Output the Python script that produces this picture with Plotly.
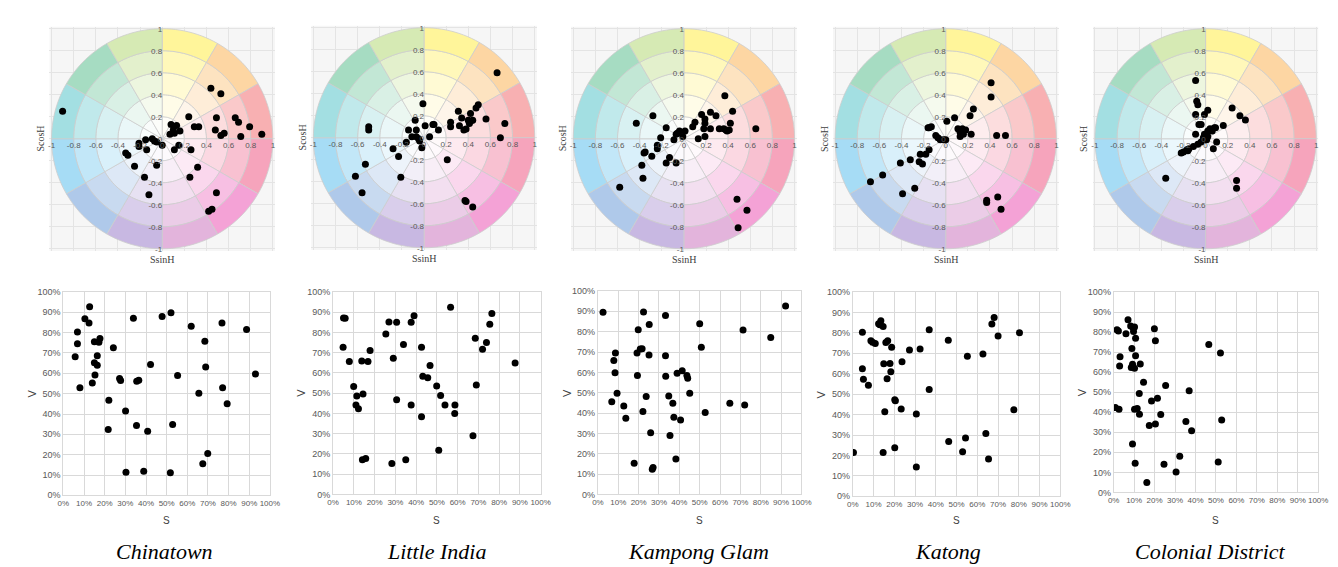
import numpy as np
import plotly.graph_objects as go

W, H = 1338, 567

regions = ["Chinatown", "Little India", "Kampong Glam", "Katong", "Colonial District"]

# ---- hue-wheel data: x = S*sinH, y = S*cosH ----
ct_ssinh = [-0.90, 0.44, 0.53, 0.24, 0.49, 0.66, 0.69, 0.79, 0.90, 0.71, 0.48, 0.56, 0.53, 0.29, 0.33,
            0.08, 0.13, 0.10, 0.16, 0.07, 0.11, 0.11, 0.15, 0.26, 0.32, 0.25, 0.49, 0.45, 0.42, 0.00,
            -0.05, -0.07, -0.15, -0.14, -0.21, -0.21, -0.05, -0.31, -0.33, -0.25, -0.16, -0.12, -0.09]
ct_scosh = [0.25, 0.46, 0.41, 0.20, 0.19, 0.19, 0.15, 0.11, 0.04, 0.02, 0.08, 0.05, 0.03, 0.11, 0.11,
            0.13, 0.12, 0.08, 0.07, 0.04, 0.05, -0.10, -0.06, -0.10, -0.26, -0.35, -0.49, -0.64, -0.66, -0.06,
            -0.03, -0.02, -0.01, -0.10, -0.04, -0.07, -0.24, -0.15, -0.13, -0.25, -0.35, -0.51, 0.00]

li_ssinh = [0.66, 0.49, 0.47, 0.56, 0.73, 0.69, 0.31, 0.34, 0.42, 0.40, 0.42, 0.44, 0.41, 0.32, 0.36,
            0.38, 0.24, 0.24, 0.08, 0.09, 0.01, 0.13, 0.05, -0.01, -0.08, -0.07, -0.14, -0.16, -0.11, -0.07,
            -0.05, -0.04, -0.02, -0.28, -0.23, -0.21, -0.50, -0.50, -0.53, -0.62, -0.56, 0.21, 0.37, 0.38, 0.44]
li_scosh = [0.59, 0.30, 0.27, 0.17, 0.13, 0.00, 0.24, 0.18, 0.22, 0.16, 0.15, 0.16, 0.13, 0.11, 0.07,
            0.08, 0.14, 0.10, 0.12, 0.12, 0.11, 0.07, 0.01, 0.31, 0.16, 0.07, 0.07, -0.04, 0.01, 0.01,
            -0.01, -0.03, -0.09, -0.10, -0.17, -0.36, 0.10, 0.07, -0.24, -0.35, -0.50, -0.20, -0.57, -0.58, -0.63]

kg_ssinh = [0.37, 0.44, 0.65, 0.24, 0.29, 0.16, 0.19, 0.19, 0.10, 0.08, 0.18, 0.24, 0.32, 0.36, 0.38,
            0.41, 0.42, 0.39, 0.19, 0.13, 0.01, -0.04, -0.06, -0.07, -0.01, -0.09, -0.16, -0.21, -0.28, -0.43,
            -0.24, -0.24, -0.29, -0.35, -0.36, -0.38, -0.37, -0.58, -0.13, -0.16, -0.07, 0.48, 0.57, 0.49]
kg_scosh = [0.39, 0.25, 0.09, 0.24, 0.21, 0.22, 0.18, 0.14, 0.15, 0.11, 0.09, 0.09, 0.09, 0.09, 0.08,
            0.08, 0.14, 0.07, 0.02, 0.00, 0.07, 0.07, 0.05, 0.04, 0.02, -0.01, 0.10, 0.01, 0.21, 0.14,
            -0.06, -0.09, -0.16, -0.12, -0.13, -0.24, -0.36, -0.44, -0.17, -0.22, -0.22, -0.55, -0.65, -0.81]

kt_ssinh = [0.41, 0.41, 0.25, 0.22, 0.08, 0.01, 0.11, 0.15, 0.18, 0.13, 0.16, 0.23, 0.13, 0.46, 0.54,
            -0.15, -0.13, -0.09, -0.07, -0.05, -0.02, 0.00, -0.15, -0.18, -0.23, -0.24, -0.21, -0.32, -0.41, -0.57,
            -0.68, -0.28, -0.39, 0.37, 0.37, 0.47, 0.50, -0.16]
kt_scosh = [0.51, 0.38, 0.27, 0.21, 0.19, 0.16, 0.09, 0.09, 0.08, 0.06, 0.04, 0.04, 0.02, 0.03, 0.03,
            0.10, 0.11, 0.03, 0.01, -0.01, -0.01, -0.01, -0.10, -0.14, -0.14, -0.21, -0.23, -0.19, -0.22, -0.33,
            -0.39, -0.45, -0.50, -0.56, -0.58, -0.53, -0.64, 0.10]

cd_ssinh = [-0.09, -0.08, -0.07, -0.09, 0.02, -0.01, 0.24, 0.31, 0.36, 0.16, 0.09, 0.04, -0.04, -0.06, 0.02,
            0.06, 0.08, -0.01, -0.09, -0.02, 0.01, -0.04, 0.10, 0.07, -0.07, -0.11, -0.15, -0.17, -0.20, -0.22,
            -0.16, -0.36, 0.28, 0.28, 0.00, 0.02]
cd_scosh = [0.53, 0.34, 0.31, 0.22, 0.26, 0.22, 0.28, 0.21, 0.17, 0.12, 0.10, 0.09, 0.13, 0.13, 0.07,
            0.07, 0.10, 0.04, 0.04, 0.01, -0.01, -0.03, -0.03, -0.09, -0.05, -0.07, -0.09, -0.10, -0.12, -0.13,
            -0.11, -0.36, -0.38, -0.45, 0.04, 0.02]

# ---- S-V scatter data (percent) ----
ct_s = [12.7, 10.4, 12.4, 6.8, 6.8, 5.7, 8.0, 15.0, 17.7, 17.2, 16.4, 15.0, 16.4, 15.3, 14.0, 24.2, 22.0,
        21.7, 27.2, 27.7, 35.5, 36.5, 33.9, 30.1, 35.4, 30.3, 38.9, 40.8, 42.2, 47.8, 52.1, 55.3, 52.9, 51.8,
        61.9, 68.5, 68.9, 65.6, 69.9, 67.5, 76.8, 77.1, 79.3, 88.7, 93.0]
ct_v = [92.7, 86.8, 84.8, 80.3, 74.5, 68.2, 52.9, 75.5, 77.1, 75.3, 68.7, 65.2, 64.0, 59.2, 55.3, 72.6, 46.8,
        32.4, 57.4, 56.5, 56.1, 56.6, 87.1, 41.5, 34.4, 11.3, 11.9, 31.5, 64.4, 87.9, 89.8, 58.9, 34.8, 11.1,
        83.1, 75.8, 63.1, 50.2, 20.6, 15.5, 84.8, 52.9, 45.0, 81.6, 59.7]

li_s = [5.0, 5.8, 4.8, 7.8, 9.9, 11.4, 11.0, 12.2, 13.8, 16.8, 17.8, 14.4, 14.1, 15.7, 25.4, 26.9, 29.0,
        30.6, 30.6, 28.3, 33.9, 35.0, 37.6, 39.0, 37.6, 42.6, 43.2, 45.6, 46.7, 42.6, 49.9, 51.8, 53.9, 50.9,
        56.6, 58.7, 58.6, 68.5, 69.0, 67.4, 72.0, 73.9, 75.5, 76.5, 87.7]
li_v = [87.2, 87.0, 72.7, 65.7, 53.3, 48.6, 44.1, 42.3, 65.9, 65.7, 71.1, 49.6, 17.1, 17.7, 79.3, 85.2, 67.2,
        85.0, 46.8, 15.3, 74.0, 17.1, 85.0, 88.3, 44.2, 72.7, 58.4, 57.6, 63.7, 38.4, 53.5, 48.9, 44.2, 21.8,
        92.4, 44.1, 40.0, 77.1, 54.1, 28.9, 71.7, 75.1, 84.1, 89.4, 64.9]

kg_s = [2.5, 8.6, 7.8, 8.4, 9.4, 6.8, 12.7, 13.7, 17.8, 19.8, 22.4, 19.2, 20.8, 21.7, 19.4, 25.2, 25.1,
        23.7, 22.1, 25.9, 26.7, 27.1, 33.2, 33.2, 33.3, 34.8, 35.4, 36.8, 37.3, 38.9, 41.4, 43.7, 44.1, 40.6,
        38.3, 45.1, 50.0, 50.8, 52.7, 64.8, 72.1, 71.3, 84.9, 92.2]
kg_v = [89.5, 69.5, 65.8, 59.8, 49.7, 45.5, 43.4, 37.4, 15.3, 81.0, 89.7, 69.5, 71.5, 71.6, 58.4, 83.5, 68.5,
        48.1, 40.8, 30.3, 12.3, 13.2, 87.9, 68.2, 58.1, 48.4, 28.9, 44.8, 37.9, 59.5, 60.8, 58.4, 57.1, 36.6,
        17.4, 49.7, 83.9, 72.4, 40.2, 44.8, 44.0, 80.8, 77.1, 92.6]

kt_s = [0.3, 4.6, 4.6, 5.1, 7.5, 8.7, 9.5, 10.8, 12.4, 13.5, 14.6, 13.0, 15.9, 16.8, 18.7, 14.9, 17.9,
        18.3, 16.5, 23.7, 20.2, 20.5, 15.4, 23.3, 14.6, 20.2, 27.3, 32.4, 30.6, 30.6, 36.8, 36.8, 46.0, 55.2,
        46.2, 54.3, 52.9, 62.7, 64.1, 65.4, 67.0, 68.1, 70.0, 80.3, 77.6]
kt_v = [21.5, 80.3, 62.4, 57.3, 54.3, 76.1, 75.4, 74.8, 84.4, 85.9, 83.1, 84.0, 75.3, 76.1, 73.0, 64.9, 65.0,
        61.0, 57.5, 65.8, 47.3, 46.8, 41.4, 42.7, 21.5, 23.8, 71.6, 72.1, 40.3, 14.4, 81.5, 52.3, 76.4, 68.5,
        26.8, 28.6, 21.8, 69.7, 30.8, 18.3, 84.3, 87.5, 78.5, 80.1, 42.4]

cd_s = [0.8, 2.6, 1.6, 2.3, 3.1, 2.9, 6.0, 7.0, 8.3, 9.4, 10.2, 9.7, 10.7, 8.9, 10.7, 9.2, 8.6, 10.2, 13.0,
        14.6, 12.5, 10.2, 11.5, 12.6, 9.2, 10.5, 19.9, 20.4, 18.5, 21.4, 17.4, 20.4, 23.0, 25.4, 16.2, 24.6,
        30.5, 32.3, 35.3, 36.9, 38.1, 46.5, 52.2, 52.8, 51.1]
cd_v = [42.3, 41.5, 81.1, 80.5, 67.7, 63.1, 79.2, 86.2, 83.0, 82.3, 82.5, 80.3, 76.9, 71.8, 68.2, 63.9, 62.3,
        62.0, 64.1, 54.9, 49.3, 41.5, 41.8, 39.0, 24.1, 14.6, 81.6, 75.7, 45.6, 47.0, 33.4, 34.1, 38.9, 53.4,
        4.9, 14.1, 10.2, 18.0, 35.4, 50.7, 30.7, 73.8, 69.5, 36.1, 15.2]

wheel_x = [ct_ssinh, li_ssinh, kg_ssinh, kt_ssinh, cd_ssinh]
wheel_y = [ct_scosh, li_scosh, kg_scosh, kt_scosh, cd_scosh]
sv_s = [ct_s, li_s, kg_s, kt_s, cd_s]
sv_v = [ct_v, li_v, kg_v, kt_v, cd_v]

wheel_ticks = [-1, -0.8, -0.6, -0.4, -0.2, 0, 0.2, 0.4, 0.6, 0.8, 1]
wheel_ticktext = ["-1", "-0.8", "-0.6", "-0.4", "-0.2", "0", "0.2", "0.4", "0.6", "0.8", "1"]
pct_ticks = [i / 10 for i in range(11)]
pct_ticktext = [f"{i * 10}%" for i in range(11)]

# 12 hue sectors, clockwise from north
sector_colors = ["#fff59a", "#fdd6a3", "#f8b0b2", "#f6a4bc", "#f4a2d6", "#e3b4dc",
                 "#c8b8e2", "#afc9ea", "#a6dcf5", "#a3dfe2", "#a6dcc2", "#d6eab4"]
ring_edges = [0, 0.2, 0.4, 0.6, 0.8, 1.0]
ring_strength = [0.06, 0.22, 0.42, 0.68, 1.0]

# ---- layout geometry (pixels) ----
wheel_cx = [150, 415, 678, 943, 1206]
wheel_cy = [128, 127, 128, 128, 128]
wheel_R = 112
LIM = 1.02
sv_boxes = [(50, 259, 284, 491), (323, 533, 284, 490), (591, 797, 283, 490),
            (849, 1059, 284, 492), (1113, 1320, 284, 488)]
name_x = [152, 428, 693, 945, 1211]


def hex_rgb(h):
    h = h.lstrip("#")
    return [int(h[i:i + 2], 16) for i in (0, 2, 4)]


def blend(c, f):
    r, g, b = hex_rgb(c)
    return "rgb(%d,%d,%d)" % (255 + (r - 255) * f, 255 + (g - 255) * f, 255 + (b - 255) * f)


def sector_path(r0, r1, t0, t1, n=14):
    ts = np.linspace(t0, t1, n)
    pts = [(r1 * np.sin(t), r1 * np.cos(t)) for t in ts]
    if r0 > 0:
        pts += [(r0 * np.sin(t), r0 * np.cos(t)) for t in ts[::-1]]
    else:
        pts += [(0.0, 0.0)]
    return "M " + " L ".join(f"{x:.4f},{y:.4f}" for x, y in pts) + " Z"


fig = go.Figure()
layout = dict(
    width=W, height=H, margin=dict(l=0, r=0, t=0, b=0),
    paper_bgcolor="white", plot_bgcolor="white", showlegend=False,
    font=dict(family="Liberation Sans, Arial, sans-serif", color="#595959"),
)
shapes = []
annotations = []

for i in range(5):
    a = 2 * i + 1
    b = 2 * i + 2
    xa, ya = f"x{a}" if a > 1 else "x", f"y{a}" if a > 1 else "y"
    xb, yb = f"x{b}", f"y{b}"
    xak = "xaxis" if a == 1 else f"xaxis{a}"
    yak = "yaxis" if a == 1 else f"yaxis{a}"

    cx, cy = wheel_cx[i], wheel_cy[i]
    half = LIM * wheel_R
    layout[xak] = dict(
        domain=[(cx - half) / W, (cx + half) / W], range=[-LIM, LIM],
        anchor="free", position=1 - cy / H,
        tickvals=wheel_ticks, ticktext=wheel_ticktext, tickfont=dict(size=8, color="#595959"),
        showgrid=True, gridcolor="#e4e4e4", gridwidth=1, zeroline=False, showline=False,
        ticks="", fixedrange=True,
    )
    layout[yak] = dict(
        domain=[1 - (cy + half) / H, 1 - (cy - half) / H], range=[-LIM, LIM],
        anchor="free", position=cx / W,
        tickvals=wheel_ticks, ticktext=wheel_ticktext, tickfont=dict(size=8, color="#595959"),
        showgrid=True, gridcolor="#e4e4e4", gridwidth=1, zeroline=False, showline=False,
        ticks="", fixedrange=True,
    )
    # grey square backdrop
    shapes.append(dict(type="rect", xref=xa, yref=ya, x0=-LIM, x1=LIM, y0=-LIM, y1=LIM,
                       fillcolor="#f6f6f6", line=dict(width=0), layer="below"))
    # hue wheel
    for k, col in enumerate(sector_colors):
        t0, t1 = np.radians(30 * k), np.radians(30 * (k + 1))
        for j in range(5):
            shapes.append(dict(type="path", xref=xa, yref=ya,
                               path=sector_path(ring_edges[j], ring_edges[j + 1], t0, t1),
                               fillcolor=blend(col, ring_strength[j]),
                               line=dict(color="#cdcdcd", width=0.8), layer="between"))
    fig.add_trace(go.Scatter(x=wheel_x[i], y=wheel_y[i], xaxis=xa, yaxis=ya, mode="markers",
                             marker=dict(color="black", size=7), hoverinfo="x+y"))
    annotations.append(dict(text="ScosH", xref="paper", yref="paper", x=(cx - half - 1) / W,
                            y=1 - cy / H, xanchor="right", yanchor="middle", textangle=-90, showarrow=False,
                            font=dict(family="Liberation Serif, Times New Roman, serif", size=10,
                                      color="#404040")))
    annotations.append(dict(text="SsinH", xref="paper", yref="paper", x=cx / W,
                            y=1 - (cy + half + 1) / H, xanchor="center", yanchor="top", showarrow=False,
                            font=dict(family="Liberation Serif, Times New Roman, serif", size=10,
                                      color="#404040")))

    # S-V scatter
    l, r, t, btm = sv_boxes[i]
    layout[f"xaxis{b}"] = dict(
        domain=[l / W, r / W], range=[0, 1], anchor=yb,
        tickvals=pct_ticks, ticktext=pct_ticktext, tickfont=dict(size=8, color="#595959"),
        showgrid=True, gridcolor="#d9d9d9", zeroline=False, showline=True, linecolor="#d9d9d9",
        mirror=True, ticks="", fixedrange=True,
    )
    layout[f"yaxis{b}"] = dict(
        domain=[1 - btm / H, 1 - t / H], range=[0, 1], anchor=xb,
        tickvals=pct_ticks, ticktext=pct_ticktext, tickfont=dict(size=9, color="#595959"),
        showgrid=True, gridcolor="#d9d9d9", zeroline=False, showline=True, linecolor="#d9d9d9",
        mirror=True, ticks="", fixedrange=True,
    )
    fig.add_trace(go.Scatter(x=[s / 100 for s in sv_s[i]], y=[v / 100 for v in sv_v[i]],
                             xaxis=xb, yaxis=yb, mode="markers",
                             marker=dict(color="black", size=7), hoverinfo="x+y"))
    annotations.append(dict(text="V", xref="paper", yref="paper", x=(l - 32) / W,
                            y=1 - (t + btm) / 2 / H, xanchor="center", yanchor="middle", textangle=-90,
                            showarrow=False, font=dict(size=11, color="#404040")))
    annotations.append(dict(text="S", xref="paper", yref="paper", x=(l + r) / 2 / W,
                            y=1 - 517 / H, xanchor="center", yanchor="middle",
                            showarrow=False, font=dict(size=10, color="#404040")))
    annotations.append(dict(text=regions[i], xref="paper", yref="paper", x=name_x[i] / W,
                            y=1 - 548 / H, xanchor="center", yanchor="middle", showarrow=False,
                            font=dict(family="Liberation Serif, Times New Roman, serif", size=22,
                                      color="black", style="italic")))

layout["shapes"] = shapes
layout["annotations"] = annotations
fig.update_layout(**layout)
fig.write_html("out.html")
